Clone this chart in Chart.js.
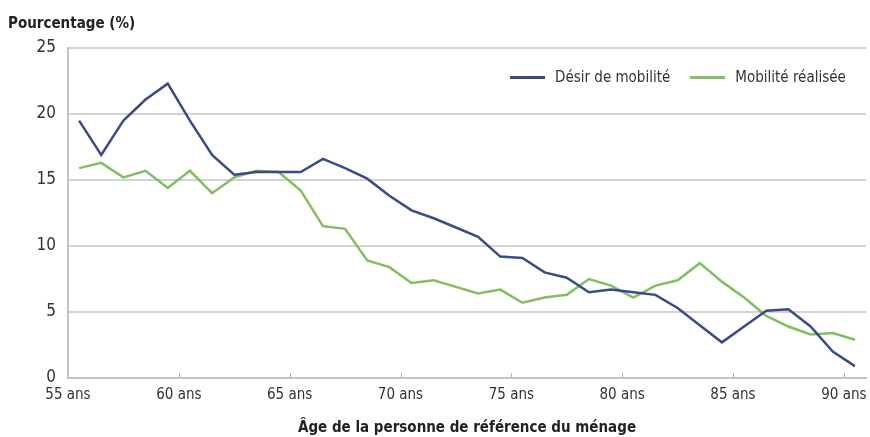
<!DOCTYPE html>
<html>
<head>
<meta charset="utf-8">
<script src="https://cdn.jsdelivr.net/npm/chart.js@4.4.1/dist/chart.umd.min.js"></script>
<style>
  html, body { margin: 0; padding: 0; background: #fff; }
  #wrap { position: relative; width: 870px; height: 437px; }
  .txt { position: absolute; font-family: 'Liberation Sans Narrow', 'DejaVu Sans Condensed', sans-serif; color: #222; white-space: nowrap; }
  #ytitle { left: 8px; top: 14px; font-size: 15px; font-weight: bold; }
  #legend { left: 510px; top: 68px; font-size: 15px; display: flex; align-items: center; color: #333; }
  #legend .item { display: flex; align-items: center; margin-right: 20px; }
  #legend .swatch { width: 35px; height: 3px; margin-right: 10px; }
</style>
</head>
<body>
<div id="wrap">
  <canvas id="chart" width="870" height="437"></canvas>
  <div class="txt" id="ytitle">Pourcentage (%)</div>
  <div class="txt" id="legend"></div>
</div>
<script>
// ages (one point per year of age of the reference person)
const ages = [55, 56, 57, 58, 59, 60, 61, 62, 63, 64, 65, 66, 67, 68, 69, 70, 71, 72,
              73, 74, 75, 76, 77, 78, 79, 80, 81, 82, 83, 84, 85, 86, 87, 88, 89, 90];
const desirMobilite = [19.5, 16.9, 19.5, 21.1, 22.3, 19.5, 16.9, 15.4, 15.6, 15.6, 15.6, 16.6,
                       15.9, 15.1, 13.8, 12.7, 12.1, 11.4, 10.7, 9.2, 9.1, 8.0, 7.6, 6.5,
                       6.7, 6.5, 6.3, 5.3, 4.0, 2.7, 3.9, 5.1, 5.2, 3.9, 2.0, 0.9];
const mobiliteRealisee = [15.9, 16.3, 15.2, 15.7, 14.4, 15.7, 14.0, 15.2, 15.7, 15.6, 14.2, 11.5,
                          11.3, 8.9, 8.4, 7.2, 7.4, 6.9, 6.4, 6.7, 5.7, 6.1, 6.3, 7.5,
                          7.0, 6.1, 7.0, 7.4, 8.7, 7.3, 6.1, 4.7, 3.9, 3.3, 3.4, 2.9];
const xTicks = [55, 60, 65, 70, 75, 80, 85, 90];
const yTicks = [0, 5, 10, 15, 20, 25];
const seriesNames = ['Désir de mobilité', 'Mobilité réalisée'];
const seriesColors = ['#3a4b8c', '#82bf5e'];

const FONT = "'Liberation Sans Narrow', 'DejaVu Sans Condensed', sans-serif";

// each age is a one-year band: the point sits in the middle of its band
function toPoints(values) {
  return values.map((v, i) => ({ x: ages[i] + 0.5, y: v }));
}

// small tick marks pointing into the plot, as in the original
const innerTicks = {
  id: 'innerTicks',
  afterDraw(chart) {
    const { ctx, scales: { x, y } } = chart;
    ctx.save();
    ctx.strokeStyle = '#b5b5b5';
    ctx.lineWidth = 1;
    xTicks.slice(1).forEach(v => {
      const px = Math.round(x.getPixelForValue(v)) + 0.5;
      ctx.beginPath();
      ctx.moveTo(px, y.bottom);
      ctx.lineTo(px, y.bottom - 5);
      ctx.stroke();
    });
    ctx.restore();
  }
};

const legendEl = document.getElementById('legend');
seriesNames.forEach((name, i) => {
  const item = document.createElement('div');
  item.className = 'item';
  item.innerHTML = `<span class="swatch" style="background:${seriesColors[i]}"></span><span>${name}</span>`;
  legendEl.appendChild(item);
});

new Chart(document.getElementById('chart'), {
  type: 'line',
  data: {
    datasets: [
      { label: seriesNames[0], data: toPoints(desirMobilite), borderColor: seriesColors[0], borderWidth: 2.5, pointRadius: 0, tension: 0 },
      { label: seriesNames[1], data: toPoints(mobiliteRealisee), borderColor: seriesColors[1], borderWidth: 2.5, pointRadius: 0, tension: 0 },
    ]
  },
  options: {
    responsive: false,
    animation: false,
    layout: { padding: { top: 48, right: 4, left: 0, bottom: 0 } },
    plugins: {
      legend: { display: false },
      tooltip: { enabled: false },
    },
    scales: {
      x: {
        type: 'linear',
        min: 55,
        max: 91,
        afterBuildTicks: scale => { scale.ticks = xTicks.map(v => ({ value: v })); },
        afterFit: scale => {
          scale.height = 59;
          // labels may overhang a little, like the original
          scale.paddingLeft = 0;
          scale.paddingRight = 0;
        },
        ticks: {
          padding: 8,
          color: '#333',
          font: { family: FONT, size: 15 },
          maxRotation: 0,
          callback: v => v + ' ans',
        },
        grid: { drawOnChartArea: false, drawTicks: false },
        border: { color: '#c4c4c4', width: 2 },
        title: {
          display: true,
          text: 'Âge de la personne de référence du ménage',
          color: '#222',
          font: { family: FONT, size: 15, weight: 'bold' },
          padding: { top: 0, bottom: 0 },
        },
      },
      y: {
        min: 0,
        max: 25,
        afterBuildTicks: scale => { scale.ticks = yTicks.map(v => ({ value: v })); },
        afterFit: scale => { scale.width = 68; },
        ticks: {
          padding: 12,
          color: '#333',
          font: { family: FONT, size: 17 },
        },
        grid: { color: '#d3d3d3', lineWidth: 2, drawTicks: false },
        border: { color: '#c4c4c4', width: 2 },
      },
    },
  },
  plugins: [innerTicks],
});
</script>
</body>
</html>
